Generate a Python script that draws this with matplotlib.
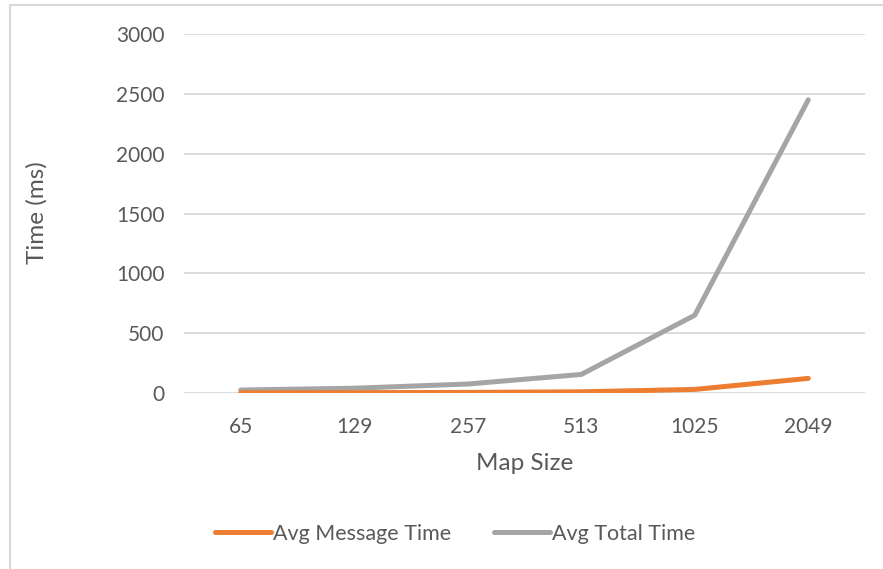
import matplotlib.pyplot as plt
from matplotlib.lines import Line2D

map_sizes = ["65", "129", "257", "513", "1025", "2049"]
avg_message_time = [2, 3, 5, 10, 30, 122]
avg_total_time = [25, 40, 75, 155, 650, 2450]

TEXT_COLOR = "#595959"
GRID_COLOR = "#D9D9D9"

plt.rcParams.update({
    "font.family": ["Lato", "DejaVu Sans"],
    "font.size": 15,
    "text.color": TEXT_COLOR,
    "xtick.color": TEXT_COLOR,
    "ytick.color": TEXT_COLOR,
})

W, H = 883, 569
fig = plt.figure(figsize=(W / 100, H / 100), dpi=100)
ax = fig.add_axes([184 / W, 1 - 393 / H, (865 - 184) / W, (393 - 34) / H])

x = list(range(len(map_sizes)))
ax.plot(x, avg_message_time, color="#ED7D31", lw=3.6, solid_capstyle="round",
        solid_joinstyle="round", label="Avg Message Time", zorder=3)
ax.plot(x, avg_total_time, color="#A5A5A5", lw=3.6, solid_capstyle="round",
        solid_joinstyle="round", label="Avg Total Time", zorder=2)

ax.set_xlim(-0.5, len(map_sizes) - 0.5)
ax.set_ylim(0, 3000)
ax.set_yticks(range(0, 3001, 500))
ax.set_xticks(x)
ax.set_xticklabels(map_sizes)
ax.yaxis.grid(True, color=GRID_COLOR, lw=1.3)
ax.set_axisbelow(True)
for s in ax.spines.values():
    s.set_visible(False)
ax.tick_params(axis="both", length=0, labelsize=15)
ax.tick_params(axis="y", pad=14)
ax.tick_params(axis="x", pad=17)

fig.text(37 / W, 1 - 213 / H, "Time (ms)", rotation=90, ha="center", va="center", fontsize=17.5)
fig.text(525 / W, 1 - 463 / H, "Map Size", ha="center", va="center", fontsize=17.5)

fig.legend(loc="center", bbox_to_anchor=(455 / W, 1 - 534 / H), ncol=2, frameon=False,
           handlelength=2.6, handletextpad=0.1, columnspacing=2.0, fontsize=15.5)

# chart area border (left and top edges only visible)
fig.add_artist(Line2D([9.5 / W, 9.5 / W], [0, 1 - 5 / H], transform=fig.transFigure,
                      color=GRID_COLOR, lw=1.5))
fig.add_artist(Line2D([9.5 / W, 1], [1 - 5 / H, 1 - 5 / H], transform=fig.transFigure,
                      color=GRID_COLOR, lw=1.5))

fig.savefig("out.png", dpi=100, facecolor="white")
